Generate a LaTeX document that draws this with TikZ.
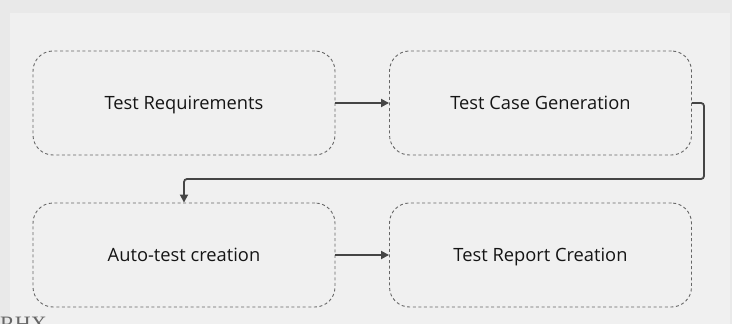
\documentclass[tikz,border=0pt]{standalone}
\usepackage{fontspec}
\setmainfont{Open Sans}
\newfontfamily\serifx{Liberation Serif}
\usetikzlibrary{arrows.meta}
\definecolor{outerbg}{HTML}{E9E9E9}
\definecolor{panelbg}{HTML}{F0F0F0}
\definecolor{boxline}{HTML}{666666}
\definecolor{arrowc}{HTML}{454545}
\definecolor{txt}{HTML}{151515}
\tikzset{
  procbox/.style={draw=boxline, line width=0.9pt, dash pattern=on 3pt off 2.6pt, rounded corners=20pt,
    minimum width=302pt, minimum height=104pt, inner sep=0pt, fill=panelbg,
    font=\fontsize{18.3}{22}\selectfont, text=txt, text height=1.45em, text depth=0.2em},
  flow/.style={draw=arrowc, line width=1.8pt, -{Triangle[length=8pt,width=8pt]}, rounded corners=3pt}
}
\begin{document}
\begin{tikzpicture}[x=1pt,y=-1pt]
\useasboundingbox (0,0) rectangle (732,324);
\fill[outerbg] (0,0) rectangle (732,324);
\fill[panelbg] (10,13) rectangle (730,324);
\node[procbox] (req) at (184,103) {Test Requirements};
\node[procbox] (gen) at (540.5,103) {Test Case Generation};
\node[procbox] (auto) at (184,255) {Auto-test creation};
\node[procbox] (rep) at (540.5,255) {Test Report Creation};
\coordinate (c1) at (704,103);
\coordinate (c2) at (704,179);
\coordinate (c3) at (184,179);
\draw[flow] (req.east) -- (gen.west);
\draw[flow] (gen.east) -- (c1) -- (c2) -- (c3) -- (auto.north);
\draw[flow] (auto.east) -- (rep.west);
\node[anchor=north west, inner sep=0pt, text=boxline, font=\serifx\fontsize{22}{24}\selectfont] (rhx) at (0,317) {RHX};
\end{tikzpicture}
\end{document}
